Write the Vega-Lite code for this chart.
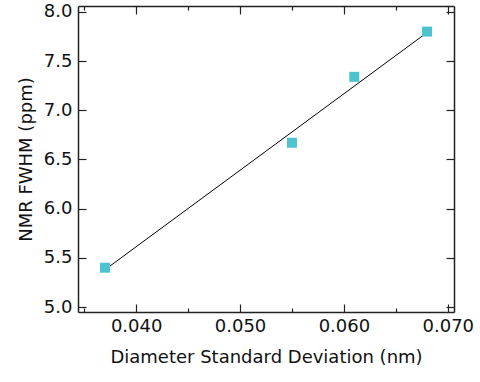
{
  "$schema": "https://vega.github.io/schema/vega-lite/v6.json",
  "autosize": "none",
  "width": 376,
  "height": 306,
  "padding": {"left": 78, "top": 6, "right": 26, "bottom": 70},
  "background": "white",
  "config": {
    "view": {"stroke": null},
    "axis": {
      "domainColor": "#222",
      "tickColor": "#222",
      "labelColor": "#111",
      "titleColor": "#111",
      "labelFont": "DejaVu Sans",
      "titleFont": "DejaVu Sans",
      "labelFontSize": 18,
      "titleFontSize": 18,
      "titleFontWeight": "normal",
      "grid": false,
      "domainWidth": 1.5,
      "tickWidth": 1.2
    }
  },
  "datasets": {
    "pts": [
      {"sd": 0.037, "fwhm": 5.40},
      {"sd": 0.055, "fwhm": 6.67},
      {"sd": 0.061, "fwhm": 7.34},
      {"sd": 0.068, "fwhm": 7.80}
    ],
    "fit": [
      {"sd": 0.037, "fwhm": 5.38},
      {"sd": 0.068, "fwhm": 7.79}
    ]
  },
  "layer": [
    {
      "data": {"name": "fit"},
      "mark": {"type": "line", "color": "#000", "strokeWidth": 1},
      "encoding": {
        "x": {"field": "sd", "type": "quantitative", "scale": {"domain": [0.0344, 0.0706], "nice": false, "zero": false},
          "axis": {"orient": "bottom", "title": "Diameter Standard Deviation (nm)", "titlePadding": 13,
            "values": [0.035, 0.040, 0.045, 0.050, 0.055, 0.060, 0.065, 0.070],
            "labelExpr": "round(datum.value*1000) % 10 == 0 ? format(datum.value, '.3f') : ''",
            "tickSize": {"condition": {"test": "round(datum.value*1000) % 10 != 0", "value": -4}, "value": -8},
            "labelPadding": 13}},
        "y": {"field": "fwhm", "type": "quantitative", "scale": {"domain": [4.95, 8.06], "nice": false, "zero": false},
          "axis": {"orient": "left", "title": "NMR FWHM (ppm)", "titlePadding": 8,
            "values": [5.0, 5.5, 6.0, 6.5, 7.0, 7.5, 8.0], "format": ".1f",
            "tickSize": -8, "labelPadding": 14}}
      }
    },
    {
      "data": {"name": "pts"},
      "mark": {"type": "square", "color": "#4cc3cf", "opacity": 1, "size": 100},
      "encoding": {
        "x": {"field": "sd", "type": "quantitative", "axis": {"orient": "top", "title": null, "labels": false,
            "values": [0.035, 0.040, 0.045, 0.050, 0.055, 0.060, 0.065, 0.070],
            "tickSize": {"condition": {"test": "round(datum.value*1000) % 10 != 0", "value": -4}, "value": -8}}},
        "y": {"field": "fwhm", "type": "quantitative", "axis": {"orient": "right", "title": null, "labels": false,
            "values": [5.0, 5.5, 6.0, 6.5, 7.0, 7.5, 8.0], "tickSize": -8}}
      }
    }
  ],
  "resolve": {"axis": {"x": "independent", "y": "independent"}}
}
